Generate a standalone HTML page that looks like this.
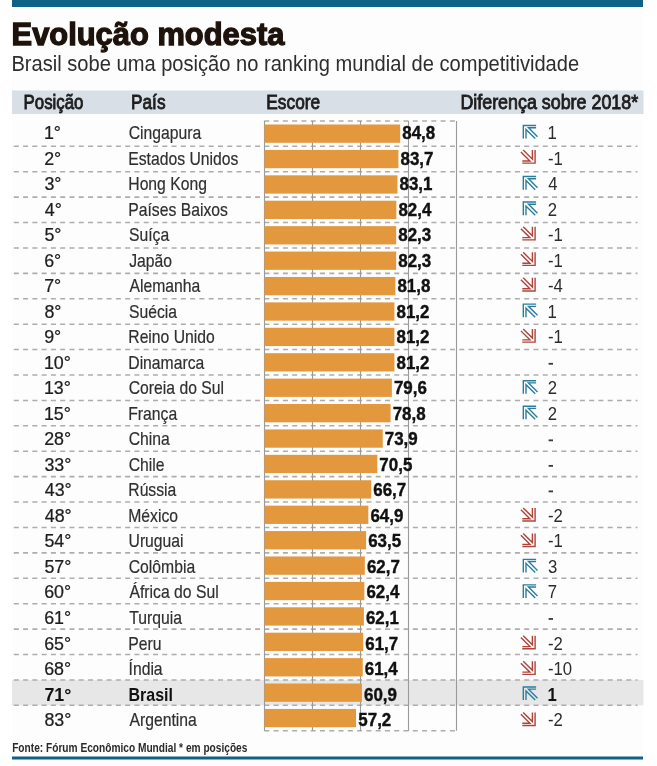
<!DOCTYPE html>
<html><head><meta charset="utf-8"><style>
html,body{margin:0;padding:0;background:#fff;}
svg{display:block;will-change:transform;}
text{font-family:"Liberation Sans",sans-serif;}
.title{font-weight:bold;font-size:31.6px;fill:#1d130c;}
.sub{font-weight:normal;font-size:21.6px;fill:#2e2e2e;}
.hdr{font-weight:normal;font-size:19.4px;fill:#1e1e1e;}
.pos{font-weight:normal;font-size:18.4px;fill:#1e1e1e;}
.posb{font-weight:bold;font-size:18.4px;fill:#111;}
.cty{font-weight:normal;font-size:18.4px;fill:#303030;}
.ctyb{font-weight:bold;font-size:18.4px;fill:#111;}
.val{font-weight:bold;font-size:18.2px;fill:#111;}
.dif{font-weight:normal;font-size:18.2px;fill:#2c2c2c;}
.difb{font-weight:bold;font-size:18.2px;fill:#111;}
.foot{font-weight:bold;font-size:12.4px;fill:#2a2a2a;}

.aup path{stroke:#2a7d9e;stroke-width:1.4;fill:none;stroke-linecap:butt;}
.adn path{stroke:#b0433a;stroke-width:1.4;fill:none;stroke-linecap:butt;}
</style></head><body>
<svg width="657" height="766" viewBox="0 0 657 766">
<rect x="12" y="0" width="631" height="766" fill="#fdfdfd"/>
<rect x="12" y="0" width="631" height="7" fill="#0f6186"/>
<rect x="12" y="90.5" width="631.5" height="23.5" fill="#d9dfe6"/>
<rect x="12" y="679.92" width="631.5" height="25.41" fill="#e8e7e8"/>
<g stroke="#adadad" stroke-width="1.55" stroke-dasharray="5 4.28">
<line x1="13.8" y1="146.31" x2="637.5" y2="146.31"/><line x1="13.8" y1="171.72" x2="637.5" y2="171.72"/><line x1="13.8" y1="197.13" x2="637.5" y2="197.13"/><line x1="13.8" y1="222.54" x2="637.5" y2="222.54"/><line x1="13.8" y1="247.95" x2="637.5" y2="247.95"/><line x1="13.8" y1="273.36" x2="637.5" y2="273.36"/><line x1="13.8" y1="298.77" x2="637.5" y2="298.77"/><line x1="13.8" y1="324.18" x2="637.5" y2="324.18"/><line x1="13.8" y1="349.59" x2="637.5" y2="349.59"/><line x1="13.8" y1="375.00" x2="637.5" y2="375.00"/><line x1="13.8" y1="400.41" x2="637.5" y2="400.41"/><line x1="13.8" y1="425.82" x2="637.5" y2="425.82"/><line x1="13.8" y1="451.23" x2="637.5" y2="451.23"/><line x1="13.8" y1="476.64" x2="637.5" y2="476.64"/><line x1="13.8" y1="502.05" x2="637.5" y2="502.05"/><line x1="13.8" y1="527.46" x2="637.5" y2="527.46"/><line x1="13.8" y1="552.87" x2="637.5" y2="552.87"/><line x1="13.8" y1="578.28" x2="637.5" y2="578.28"/><line x1="13.8" y1="603.69" x2="637.5" y2="603.69"/><line x1="13.8" y1="629.10" x2="637.5" y2="629.10"/><line x1="13.8" y1="654.51" x2="637.5" y2="654.51"/><line x1="13.8" y1="679.92" x2="637.5" y2="679.92"/><line x1="13.8" y1="705.33" x2="637.5" y2="705.33"/>
<line x1="264.3" y1="120.90" x2="456.5" y2="120.90"/><line x1="264.3" y1="730.74" x2="456.5" y2="730.74"/>
</g>

<g stroke="#9a9a9a" stroke-width="1.1">
<line x1="264.5" y1="120.90" x2="264.5" y2="730.74"/>
<line x1="312.5" y1="120.90" x2="312.5" y2="730.74"/>
<line x1="360.5" y1="120.90" x2="360.5" y2="730.74"/>
<line x1="408.5" y1="120.90" x2="408.5" y2="730.74"/>
<line x1="456.5" y1="120.90" x2="456.5" y2="730.74"/>
</g>
<g fill="#e3983e">
<rect x="264.5" y="124.50" width="135.68" height="18.3"/><rect x="264.5" y="149.91" width="133.92" height="18.3"/><rect x="264.5" y="175.32" width="132.96" height="18.3"/><rect x="264.5" y="200.73" width="131.84" height="18.3"/><rect x="264.5" y="226.14" width="131.68" height="18.3"/><rect x="264.5" y="251.55" width="131.68" height="18.3"/><rect x="264.5" y="276.96" width="130.88" height="18.3"/><rect x="264.5" y="302.37" width="129.92" height="18.3"/><rect x="264.5" y="327.78" width="129.92" height="18.3"/><rect x="264.5" y="353.19" width="129.92" height="18.3"/><rect x="264.5" y="378.60" width="127.36" height="18.3"/><rect x="264.5" y="404.01" width="126.08" height="18.3"/><rect x="264.5" y="429.42" width="118.24" height="18.3"/><rect x="264.5" y="454.83" width="112.80" height="18.3"/><rect x="264.5" y="480.24" width="106.72" height="18.3"/><rect x="264.5" y="505.65" width="103.84" height="18.3"/><rect x="264.5" y="531.06" width="101.60" height="18.3"/><rect x="264.5" y="556.47" width="100.32" height="18.3"/><rect x="264.5" y="581.88" width="99.84" height="18.3"/><rect x="264.5" y="607.29" width="99.36" height="18.3"/><rect x="264.5" y="632.70" width="98.72" height="18.3"/><rect x="264.5" y="658.11" width="98.24" height="18.3"/><rect x="264.5" y="683.52" width="97.44" height="18.3"/><rect x="264.5" y="708.93" width="91.52" height="18.3"/>
</g>
<g class="aup" transform="translate(522.50,124.80)"><path d="M0.8,13.8V0.7H13.6 M3.5,13.8V4.7L12.7,13.8 M13.6,2.9H6L15,11.9"/></g><g class="adn" transform="translate(520.90,149.86) rotate(180 7.5 7)"><path d="M0.8,13.8V0.7H13.6 M3.5,13.8V4.7L12.7,13.8 M13.6,2.9H6L15,11.9"/></g><g class="aup" transform="translate(522.50,175.84)"><path d="M0.8,13.8V0.7H13.6 M3.5,13.8V4.7L12.7,13.8 M13.6,2.9H6L15,11.9"/></g><g class="aup" transform="translate(522.50,201.36)"><path d="M0.8,13.8V0.7H13.6 M3.5,13.8V4.7L12.7,13.8 M13.6,2.9H6L15,11.9"/></g><g class="adn" transform="translate(520.90,226.54) rotate(180 7.5 7)"><path d="M0.8,13.8V0.7H13.6 M3.5,13.8V4.7L12.7,13.8 M13.6,2.9H6L15,11.9"/></g><g class="adn" transform="translate(520.90,252.10) rotate(180 7.5 7)"><path d="M0.8,13.8V0.7H13.6 M3.5,13.8V4.7L12.7,13.8 M13.6,2.9H6L15,11.9"/></g><g class="adn" transform="translate(520.90,277.66) rotate(180 7.5 7)"><path d="M0.8,13.8V0.7H13.6 M3.5,13.8V4.7L12.7,13.8 M13.6,2.9H6L15,11.9"/></g><g class="aup" transform="translate(522.50,303.44)"><path d="M0.8,13.8V0.7H13.6 M3.5,13.8V4.7L12.7,13.8 M13.6,2.9H6L15,11.9"/></g><g class="adn" transform="translate(520.90,328.78) rotate(180 7.5 7)"><path d="M0.8,13.8V0.7H13.6 M3.5,13.8V4.7L12.7,13.8 M13.6,2.9H6L15,11.9"/></g><g class="aup" transform="translate(522.50,380.00)"><path d="M0.8,13.8V0.7H13.6 M3.5,13.8V4.7L12.7,13.8 M13.6,2.9H6L15,11.9"/></g><g class="aup" transform="translate(522.50,405.52)"><path d="M0.8,13.8V0.7H13.6 M3.5,13.8V4.7L12.7,13.8 M13.6,2.9H6L15,11.9"/></g><g class="adn" transform="translate(520.90,507.70) rotate(180 7.5 7)"><path d="M0.8,13.8V0.7H13.6 M3.5,13.8V4.7L12.7,13.8 M13.6,2.9H6L15,11.9"/></g><g class="adn" transform="translate(520.90,533.26) rotate(180 7.5 7)"><path d="M0.8,13.8V0.7H13.6 M3.5,13.8V4.7L12.7,13.8 M13.6,2.9H6L15,11.9"/></g><g class="aup" transform="translate(522.50,558.64)"><path d="M0.8,13.8V0.7H13.6 M3.5,13.8V4.7L12.7,13.8 M13.6,2.9H6L15,11.9"/></g><g class="aup" transform="translate(522.50,584.16)"><path d="M0.8,13.8V0.7H13.6 M3.5,13.8V4.7L12.7,13.8 M13.6,2.9H6L15,11.9"/></g><g class="adn" transform="translate(520.90,635.50) rotate(180 7.5 7)"><path d="M0.8,13.8V0.7H13.6 M3.5,13.8V4.7L12.7,13.8 M13.6,2.9H6L15,11.9"/></g><g class="adn" transform="translate(520.90,661.06) rotate(180 7.5 7)"><path d="M0.8,13.8V0.7H13.6 M3.5,13.8V4.7L12.7,13.8 M13.6,2.9H6L15,11.9"/></g><g class="aup" transform="translate(522.50,686.24)"><path d="M0.8,13.8V0.7H13.6 M3.5,13.8V4.7L12.7,13.8 M13.6,2.9H6L15,11.9"/></g><g class="adn" transform="translate(520.90,712.18) rotate(180 7.5 7)"><path d="M0.8,13.8V0.7H13.6 M3.5,13.8V4.7L12.7,13.8 M13.6,2.9H6L15,11.9"/></g>
<text class="title" transform="translate(11.57,45.00) scale(0.9771,1)" stroke="#1d130c" stroke-width="1.3">Evolução modesta</text>
<text class="sub" transform="translate(11.43,71.00) scale(0.9312,1)" >Brasil sobe uma posição no ranking mundial de competitividade</text>
<text class="hdr" transform="translate(23.58,109.00) scale(0.8679,1)" stroke="#1e1e1e" stroke-width="0.85">Posição</text>
<text class="hdr" transform="translate(131.05,109.00) scale(0.8884,1)" stroke="#1e1e1e" stroke-width="0.85">País</text>
<text class="hdr" transform="translate(266.35,109.00) scale(0.8902,1)" stroke="#1e1e1e" stroke-width="0.85">Escore</text>
<text class="hdr" transform="translate(460.40,109.00) scale(0.9213,1)" stroke="#1e1e1e" stroke-width="0.85">Diferença sobre 2018*</text>
<text class="foot" transform="translate(12.17,751.90) scale(0.8192,1)" >Fonte: Fórum Econômico Mundial * em posições</text>
<text class="pos" transform="translate(43.88,139.10) scale(0.9700,1)" stroke="#1e1e1e" stroke-width="0.25">1°</text>
<text class="cty" transform="translate(128.76,139.10) scale(0.8550,1)" stroke="#303030" stroke-width="0.2">Cingapura</text>
<text class="val" transform="translate(402.25,139.10) scale(0.9300,1)" stroke="#111" stroke-width="0.4">84,8</text>
<text class="dif" transform="translate(547.45,139.10) scale(0.9200,1)" >1</text>
<text class="pos" transform="translate(44.16,164.62) scale(0.9700,1)" stroke="#1e1e1e" stroke-width="0.25">2°</text>
<text class="cty" transform="translate(128.27,164.62) scale(0.8550,1)" stroke="#303030" stroke-width="0.2">Estados Unidos</text>
<text class="val" transform="translate(400.49,164.62) scale(0.9300,1)" stroke="#111" stroke-width="0.4">83,7</text>
<text class="dif" transform="translate(547.98,164.62) scale(0.9200,1)" >-1</text>
<text class="pos" transform="translate(44.44,190.14) scale(0.9700,1)" stroke="#1e1e1e" stroke-width="0.25">3°</text>
<text class="cty" transform="translate(128.27,190.14) scale(0.8550,1)" stroke="#303030" stroke-width="0.2">Hong Kong</text>
<text class="val" transform="translate(399.53,190.14) scale(0.9300,1)" stroke="#111" stroke-width="0.4">83,1</text>
<text class="dif" transform="translate(548.24,190.14) scale(0.9200,1)" >4</text>
<text class="pos" transform="translate(44.72,215.66) scale(0.9700,1)" stroke="#1e1e1e" stroke-width="0.25">4°</text>
<text class="cty" transform="translate(128.27,215.66) scale(0.8550,1)" stroke="#303030" stroke-width="0.2">Países Baixos</text>
<text class="val" transform="translate(398.41,215.66) scale(0.9300,1)" stroke="#111" stroke-width="0.4">82,4</text>
<text class="dif" transform="translate(547.72,215.66) scale(0.9200,1)" >2</text>
<text class="pos" transform="translate(44.44,241.18) scale(0.9700,1)" stroke="#1e1e1e" stroke-width="0.25">5°</text>
<text class="cty" transform="translate(129.01,241.18) scale(0.8550,1)" stroke="#303030" stroke-width="0.2">Suíça</text>
<text class="val" transform="translate(398.25,241.18) scale(0.9300,1)" stroke="#111" stroke-width="0.4">82,3</text>
<text class="dif" transform="translate(547.98,241.18) scale(0.9200,1)" >-1</text>
<text class="pos" transform="translate(44.16,266.70) scale(0.9700,1)" stroke="#1e1e1e" stroke-width="0.25">6°</text>
<text class="cty" transform="translate(129.25,266.70) scale(0.8550,1)" stroke="#303030" stroke-width="0.2">Japão</text>
<text class="val" transform="translate(398.25,266.70) scale(0.9300,1)" stroke="#111" stroke-width="0.4">82,3</text>
<text class="dif" transform="translate(547.98,266.70) scale(0.9200,1)" >-1</text>
<text class="pos" transform="translate(44.16,292.22) scale(0.9700,1)" stroke="#1e1e1e" stroke-width="0.25">7°</text>
<text class="cty" transform="translate(129.50,292.22) scale(0.8550,1)" stroke="#303030" stroke-width="0.2">Alemanha</text>
<text class="val" transform="translate(397.45,292.22) scale(0.9300,1)" stroke="#111" stroke-width="0.4">81,8</text>
<text class="dif" transform="translate(547.98,292.22) scale(0.9200,1)" >-4</text>
<text class="pos" transform="translate(44.44,317.74) scale(0.9700,1)" stroke="#1e1e1e" stroke-width="0.25">8°</text>
<text class="cty" transform="translate(129.01,317.74) scale(0.8550,1)" stroke="#303030" stroke-width="0.2">Suécia</text>
<text class="val" transform="translate(396.49,317.74) scale(0.9300,1)" stroke="#111" stroke-width="0.4">81,2</text>
<text class="dif" transform="translate(547.45,317.74) scale(0.9200,1)" >1</text>
<text class="pos" transform="translate(44.16,343.26) scale(0.9700,1)" stroke="#1e1e1e" stroke-width="0.25">9°</text>
<text class="cty" transform="translate(128.27,343.26) scale(0.8550,1)" stroke="#303030" stroke-width="0.2">Reino Unido</text>
<text class="val" transform="translate(396.49,343.26) scale(0.9300,1)" stroke="#111" stroke-width="0.4">81,2</text>
<text class="dif" transform="translate(547.98,343.26) scale(0.9200,1)" >-1</text>
<text class="pos" transform="translate(43.88,368.78) scale(0.9700,1)" stroke="#1e1e1e" stroke-width="0.25">10°</text>
<text class="cty" transform="translate(128.27,368.78) scale(0.8550,1)" stroke="#303030" stroke-width="0.2">Dinamarca</text>
<text class="val" transform="translate(396.49,368.78) scale(0.9300,1)" stroke="#111" stroke-width="0.4">81,2</text>
<text class="pos" transform="translate(43.88,394.30) scale(0.9700,1)" stroke="#1e1e1e" stroke-width="0.25">13°</text>
<text class="cty" transform="translate(128.76,394.30) scale(0.8550,1)" stroke="#303030" stroke-width="0.2">Coreia do Sul</text>
<text class="val" transform="translate(393.93,394.30) scale(0.9300,1)" stroke="#111" stroke-width="0.4">79,6</text>
<text class="dif" transform="translate(547.72,394.30) scale(0.9200,1)" >2</text>
<text class="pos" transform="translate(43.88,419.82) scale(0.9700,1)" stroke="#1e1e1e" stroke-width="0.25">15°</text>
<text class="cty" transform="translate(128.27,419.82) scale(0.8550,1)" stroke="#303030" stroke-width="0.2">França</text>
<text class="val" transform="translate(392.65,419.82) scale(0.9300,1)" stroke="#111" stroke-width="0.4">78,8</text>
<text class="dif" transform="translate(547.72,419.82) scale(0.9200,1)" >2</text>
<text class="pos" transform="translate(44.16,445.34) scale(0.9700,1)" stroke="#1e1e1e" stroke-width="0.25">28°</text>
<text class="cty" transform="translate(128.76,445.34) scale(0.8550,1)" stroke="#303030" stroke-width="0.2">China</text>
<text class="val" transform="translate(384.81,445.34) scale(0.9300,1)" stroke="#111" stroke-width="0.4">73,9</text>
<text class="pos" transform="translate(44.44,470.86) scale(0.9700,1)" stroke="#1e1e1e" stroke-width="0.25">33°</text>
<text class="cty" transform="translate(128.76,470.86) scale(0.8550,1)" stroke="#303030" stroke-width="0.2">Chile</text>
<text class="val" transform="translate(379.37,470.86) scale(0.9300,1)" stroke="#111" stroke-width="0.4">70,5</text>
<text class="pos" transform="translate(44.72,496.38) scale(0.9700,1)" stroke="#1e1e1e" stroke-width="0.25">43°</text>
<text class="cty" transform="translate(128.27,496.38) scale(0.8550,1)" stroke="#303030" stroke-width="0.2">Rússia</text>
<text class="val" transform="translate(373.29,496.38) scale(0.9300,1)" stroke="#111" stroke-width="0.4">66,7</text>
<text class="pos" transform="translate(44.72,521.90) scale(0.9700,1)" stroke="#1e1e1e" stroke-width="0.25">48°</text>
<text class="cty" transform="translate(128.27,521.90) scale(0.8550,1)" stroke="#303030" stroke-width="0.2">México</text>
<text class="val" transform="translate(370.41,521.90) scale(0.9300,1)" stroke="#111" stroke-width="0.4">64,9</text>
<text class="dif" transform="translate(547.98,521.90) scale(0.9200,1)" >-2</text>
<text class="pos" transform="translate(44.44,547.42) scale(0.9700,1)" stroke="#1e1e1e" stroke-width="0.25">54°</text>
<text class="cty" transform="translate(128.52,547.42) scale(0.8550,1)" stroke="#303030" stroke-width="0.2">Uruguai</text>
<text class="val" transform="translate(368.17,547.42) scale(0.9300,1)" stroke="#111" stroke-width="0.4">63,5</text>
<text class="dif" transform="translate(547.98,547.42) scale(0.9200,1)" >-1</text>
<text class="pos" transform="translate(44.44,572.94) scale(0.9700,1)" stroke="#1e1e1e" stroke-width="0.25">57°</text>
<text class="cty" transform="translate(128.76,572.94) scale(0.8550,1)" stroke="#303030" stroke-width="0.2">Colômbia</text>
<text class="val" transform="translate(366.89,572.94) scale(0.9300,1)" stroke="#111" stroke-width="0.4">62,7</text>
<text class="dif" transform="translate(547.98,572.94) scale(0.9200,1)" >3</text>
<text class="pos" transform="translate(44.16,598.46) scale(0.9700,1)" stroke="#1e1e1e" stroke-width="0.25">60°</text>
<text class="cty" transform="translate(129.50,598.46) scale(0.8550,1)" stroke="#303030" stroke-width="0.2">África do Sul</text>
<text class="val" transform="translate(366.41,598.46) scale(0.9300,1)" stroke="#111" stroke-width="0.4">62,4</text>
<text class="dif" transform="translate(547.72,598.46) scale(0.9200,1)" >7</text>
<text class="pos" transform="translate(44.16,623.98) scale(0.9700,1)" stroke="#1e1e1e" stroke-width="0.25">61°</text>
<text class="cty" transform="translate(129.25,623.98) scale(0.8550,1)" stroke="#303030" stroke-width="0.2">Turquia</text>
<text class="val" transform="translate(365.93,623.98) scale(0.9300,1)" stroke="#111" stroke-width="0.4">62,1</text>
<text class="pos" transform="translate(44.16,649.50) scale(0.9700,1)" stroke="#1e1e1e" stroke-width="0.25">65°</text>
<text class="cty" transform="translate(128.27,649.50) scale(0.8550,1)" stroke="#303030" stroke-width="0.2">Peru</text>
<text class="val" transform="translate(365.29,649.50) scale(0.9300,1)" stroke="#111" stroke-width="0.4">61,7</text>
<text class="dif" transform="translate(547.98,649.50) scale(0.9200,1)" >-2</text>
<text class="pos" transform="translate(44.16,675.02) scale(0.9700,1)" stroke="#1e1e1e" stroke-width="0.25">68°</text>
<text class="cty" transform="translate(128.52,675.02) scale(0.8550,1)" stroke="#303030" stroke-width="0.2">Índia</text>
<text class="val" transform="translate(364.81,675.02) scale(0.9300,1)" stroke="#111" stroke-width="0.4">61,4</text>
<text class="dif" transform="translate(547.98,675.02) scale(0.9200,1)" >-10</text>
<text class="posb" transform="translate(44.44,700.54) scale(0.9700,1)" >71°</text>
<text class="ctyb" transform="translate(128.50,700.54) scale(0.8700,1)" >Brasil</text>
<text class="val" transform="translate(364.01,700.54) scale(0.9300,1)" stroke="#111" stroke-width="0.4">60,9</text>
<text class="difb" transform="translate(547.45,700.54) scale(0.9200,1)" >1</text>
<text class="pos" transform="translate(44.44,726.06) scale(0.9700,1)" stroke="#1e1e1e" stroke-width="0.25">83°</text>
<text class="cty" transform="translate(129.50,726.06) scale(0.8550,1)" stroke="#303030" stroke-width="0.2">Argentina</text>
<text class="val" transform="translate(358.36,726.06) scale(0.9300,1)" stroke="#111" stroke-width="0.4">57,2</text>
<text class="dif" transform="translate(547.98,726.06) scale(0.9200,1)" >-2</text>
<rect x="548.6" y="362.88" width="4.4" height="1.8" fill="#3a3a3a"/><rect x="548.6" y="439.44" width="4.4" height="1.8" fill="#3a3a3a"/><rect x="548.6" y="464.96" width="4.4" height="1.8" fill="#3a3a3a"/><rect x="548.6" y="490.48" width="4.4" height="1.8" fill="#3a3a3a"/><rect x="548.6" y="618.08" width="4.4" height="1.8" fill="#3a3a3a"/>
<rect x="12" y="756.5" width="631" height="3" fill="#0f6186"/>
</svg>
</body></html>
